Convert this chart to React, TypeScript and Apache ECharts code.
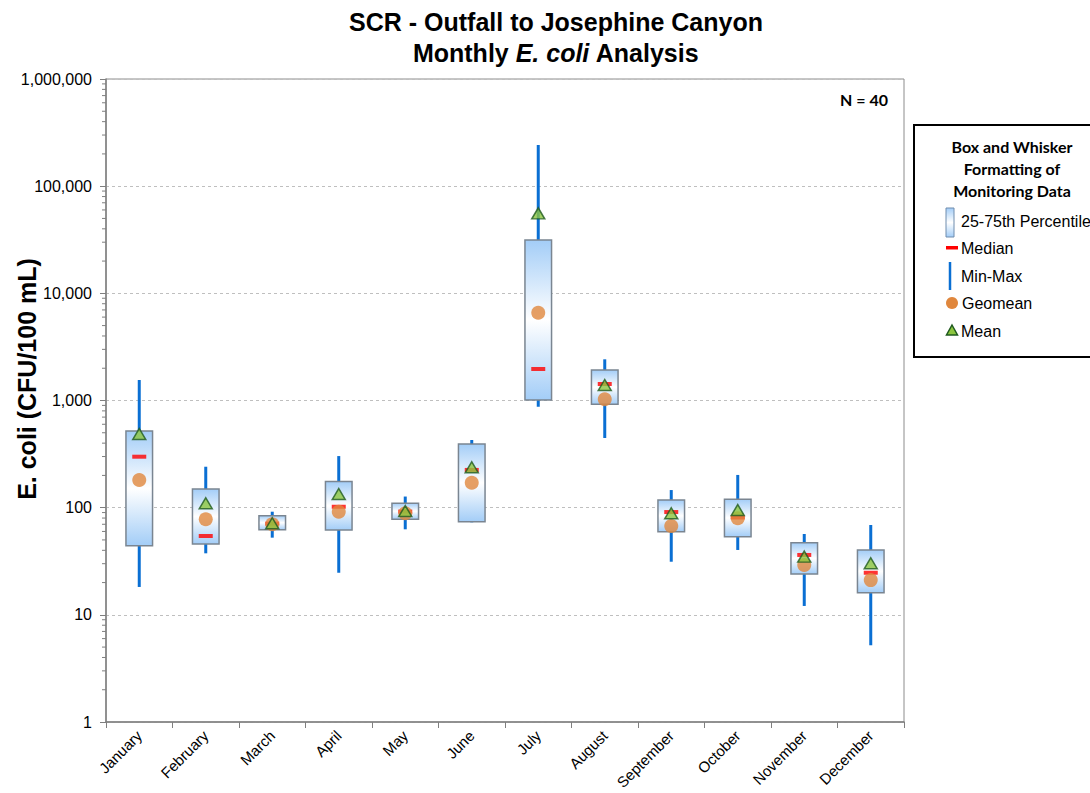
import React, { useEffect, useRef } from 'react';
import * as echarts from 'echarts';

const months = ['January', 'February', 'March', 'April', 'May', 'June', 'July', 'August', 'September', 'October', 'November', 'December'];
const minVals = [18.2, 37.5, 52.5, 24.7, 62.8, 73, 875, 447, 31.3, 40.3, 12.1, 5.2];
const q1Vals = [44.2, 45.8, 62.3, 61.9, 77.9, 74, 1011, 921, 59.7, 53.6, 24, 16.1];
const q3Vals = [519, 149, 84.1, 175, 110, 393, 31450, 1927, 118, 120, 47.1, 40.3];
const maxVals = [1553, 241, 91.7, 303, 127, 428, 242000, 2423, 146, 202, 56.8, 68.9];
const medianVals = [299, 54.4, 71, 102, 92, 225, 1968, 1425, 91, 81, 36.2, 24.7];
const geomeanVals = [181, 77.9, 70, 91.7, 88.6, 171, 6590, 1026, 67.5, 79.6, 29.2, 21.1];
const meanVals = [487, 110, 71.5, 134, 93, 238, 55800, 1395, 88.6, 95, 34.9, 30.3];

const minorMultipliers = [2, 3, 4, 5, 6, 7, 8, 9];
const decades = [1, 10, 100, 1000, 10000, 100000];

const FONT = '"Liberation Sans", Arial, sans-serif';
const LFONT = 'Lato, "Liberation Sans", sans-serif';

const BLUE = '#0a6fd3';
const RED = '#ff0000';
const ORANGE = '#e0873d';
const GREEN = '#8cc63f';
const DKGREEN = '#1f5a1f';

const boxGradient = () => ({
  type: 'linear', x: 0, y: 0, x2: 0, y2: 1,
  colorStops: [
    { offset: 0, color: '#a3cdf7' },
    { offset: 0.5, color: '#ffffff' },
    { offset: 1, color: '#a3cdf7' },
  ],
});

export default function App() {
  const ref = useRef<HTMLDivElement>(null);
  useEffect(() => {
    document.body.style.margin = '0';
    const chart = echarts.init(ref.current!, null, { renderer: 'svg' });

    const minorTicks: number[][] = [];
    decades.forEach((d) => minorMultipliers.forEach((m) => minorTicks.push([0, d * m])));

    const whiskerData = months.map((_, i) => [i, minVals[i], maxVals[i]]);
    const boxData = months.map((_, i) => [i, q1Vals[i], q3Vals[i]]);

    const option: any = {
      animation: false,
      backgroundColor: '#ffffff',
      grid: { left: 106, right: 186, top: 79, bottom: 71, show: true, borderColor: '#8c8c8c', borderWidth: 1, containLabel: false },
      xAxis: {
        type: 'category',
        data: months,
        boundaryGap: true,
        axisLine: { show: true, lineStyle: { color: '#7f7f7f', width: 1.5 } },
        axisTick: { show: true, length: 6, lineStyle: { color: '#7f7f7f' }, interval: 0 },
        axisLabel: { rotate: 45, interval: 0, fontSize: 15, color: '#000', fontFamily: FONT, margin: 11 },
        splitLine: { show: false },
      },
      yAxis: {
        type: 'log',
        logBase: 10,
        min: 1,
        max: 1000000,
        axisLine: { show: true, lineStyle: { color: '#7f7f7f', width: 1.5 } },
        axisTick: { show: true, length: 6, lineStyle: { color: '#7f7f7f' } },
        axisLabel: {
          fontSize: 16, color: '#000', fontFamily: FONT, margin: 14,
          formatter: (v: number) => Math.round(v).toLocaleString('en-US'),
        },
        splitLine: { show: true, lineStyle: { color: '#bfbfbf', type: [3, 3], width: 1 } },
      },
      series: [
        {
          type: 'custom',
          name: 'minorTicks',
          clip: false,
          z: 1,
          encode: { x: 0, y: 1 },
          data: minorTicks,
          renderItem: (params: any, api: any) => {
            const y = api.coord([0, api.value(1)])[1];
            const x = params.coordSys.x;
            return { type: 'line', shape: { x1: x - 4, y1: y, x2: x, y2: y }, style: { stroke: '#7f7f7f', lineWidth: 1 } };
          },
        },
        {
          type: 'custom',
          name: 'Min-Max',
          z: 2,
          encode: { x: 0, y: [1, 2] },
          data: whiskerData,
          renderItem: (params: any, api: any) => {
            const lo = api.coord([api.value(0), api.value(1)]);
            const hi = api.coord([api.value(0), api.value(2)]);
            return { type: 'line', shape: { x1: lo[0], y1: lo[1], x2: hi[0], y2: hi[1] }, style: { stroke: BLUE, lineWidth: 3 } };
          },
        },
        {
          type: 'custom',
          name: '25-75th Percentile',
          z: 3,
          encode: { x: 0, y: [1, 2] },
          data: boxData,
          renderItem: (params: any, api: any) => {
            const lo = api.coord([api.value(0), api.value(1)]);
            const hi = api.coord([api.value(0), api.value(2)]);
            const w = api.size([1, 0])[0] * 0.4;
            return {
              type: 'rect',
              shape: { x: lo[0] - w / 2, y: hi[1], width: w, height: lo[1] - hi[1] },
              style: { fill: boxGradient(), stroke: '#7a8591', lineWidth: 1.5 },
            };
          },
        },
        {
          type: 'scatter',
          name: 'Median',
          z: 4,
          symbol: 'rect',
          symbolSize: [14, 4],
          itemStyle: { color: RED },
          data: months.map((_, i) => [i, medianVals[i]]),
        },
        {
          type: 'scatter',
          name: 'Geomean',
          z: 5,
          symbol: 'circle',
          symbolSize: 14,
          itemStyle: { color: ORANGE },
          data: months.map((_, i) => [i, geomeanVals[i]]),
        },
        {
          type: 'scatter',
          name: 'Mean',
          z: 6,
          symbol: 'triangle',
          symbolSize: [13, 11],
          itemStyle: { color: GREEN, borderColor: DKGREEN, borderWidth: 1.5 },
          data: months.map((_, i) => [i, meanVals[i]]),
        },
      ],
      graphic: [
        {
          type: 'text', x: 556, y: 22,
          style: { text: 'SCR - Outfall to Josephine Canyon', font: `bold 25px ${FONT}`, fill: '#000', align: 'center', verticalAlign: 'middle' },
        },
        {
          type: 'text', x: 556, y: 53,
          style: {
            text: '{a|Monthly }{b|E. coli}{a| Analysis}',
            align: 'center', verticalAlign: 'middle',
            rich: {
              a: { fontFamily: FONT, fontWeight: 'bold', fontSize: 25, fill: '#000', color: '#000' },
              b: { fontFamily: FONT, fontWeight: 'bold', fontStyle: 'italic', fontSize: 25, fill: '#000', color: '#000' },
            },
          },
        },
        {
          type: 'text', x: 27, y: 379, rotation: Math.PI / 2,
          style: { text: 'E. coli (CFU/100 mL)', font: `bold 25px ${FONT}`, fill: '#000', align: 'center', verticalAlign: 'middle' },
        },
        {
          type: 'text', x: 888, y: 99,
          style: { text: 'N = 40', font: `bold 16px ${LFONT}`, fill: '#000', align: 'right', verticalAlign: 'middle' },
        },
        {
          type: 'group',
          children: [
            { type: 'rect', shape: { x: 914, y: 125, width: 200, height: 232 }, style: { fill: '#fff', stroke: '#000', lineWidth: 2 } },
            { type: 'text', x: 1012, y: 146, style: { text: 'Box and Whisker', font: `bold 16px ${LFONT}`, fill: '#000', align: 'center', verticalAlign: 'middle' } },
            { type: 'text', x: 1012, y: 168, style: { text: 'Formatting of', font: `bold 16px ${LFONT}`, fill: '#000', align: 'center', verticalAlign: 'middle' } },
            { type: 'text', x: 1012, y: 190, style: { text: 'Monitoring Data', font: `bold 16px ${LFONT}`, fill: '#000', align: 'center', verticalAlign: 'middle' } },
            { type: 'rect', shape: { x: 946, y: 208, width: 8, height: 29 }, style: { fill: boxGradient(), stroke: '#6e8cad', lineWidth: 1 } },
            { type: 'text', x: 961, y: 221, style: { text: '25-75th Percentile', font: `16px ${FONT}`, fill: '#000', align: 'left', verticalAlign: 'middle' } },
            { type: 'rect', shape: { x: 946, y: 246, width: 12, height: 3.5 }, style: { fill: RED } },
            { type: 'text', x: 961, y: 248, style: { text: 'Median', font: `16px ${FONT}`, fill: '#000', align: 'left', verticalAlign: 'middle' } },
            { type: 'line', shape: { x1: 950, y1: 262, x2: 950, y2: 290 }, style: { stroke: BLUE, lineWidth: 2.5 } },
            { type: 'text', x: 961, y: 276, style: { text: 'Min-Max', font: `16px ${FONT}`, fill: '#000', align: 'left', verticalAlign: 'middle' } },
            { type: 'circle', shape: { cx: 952, cy: 303, r: 6 }, style: { fill: ORANGE } },
            { type: 'text', x: 962, y: 303, style: { text: 'Geomean', font: `16px ${FONT}`, fill: '#000', align: 'left', verticalAlign: 'middle' } },
            { type: 'polygon', shape: { points: [[952, 325], [957.5, 335], [946.5, 335]] }, style: { fill: GREEN, stroke: DKGREEN, lineWidth: 1.5 } },
            { type: 'text', x: 961, y: 331, style: { text: 'Mean', font: `16px ${FONT}`, fill: '#000', align: 'left', verticalAlign: 'middle' } },
          ],
        },
      ],
    };

    chart.setOption(option);
    return () => chart.dispose();
  }, []);
  return <div ref={ref} style={{ position: 'absolute', left: 0, top: 0, width: 1090, height: 793 }} />;
}
